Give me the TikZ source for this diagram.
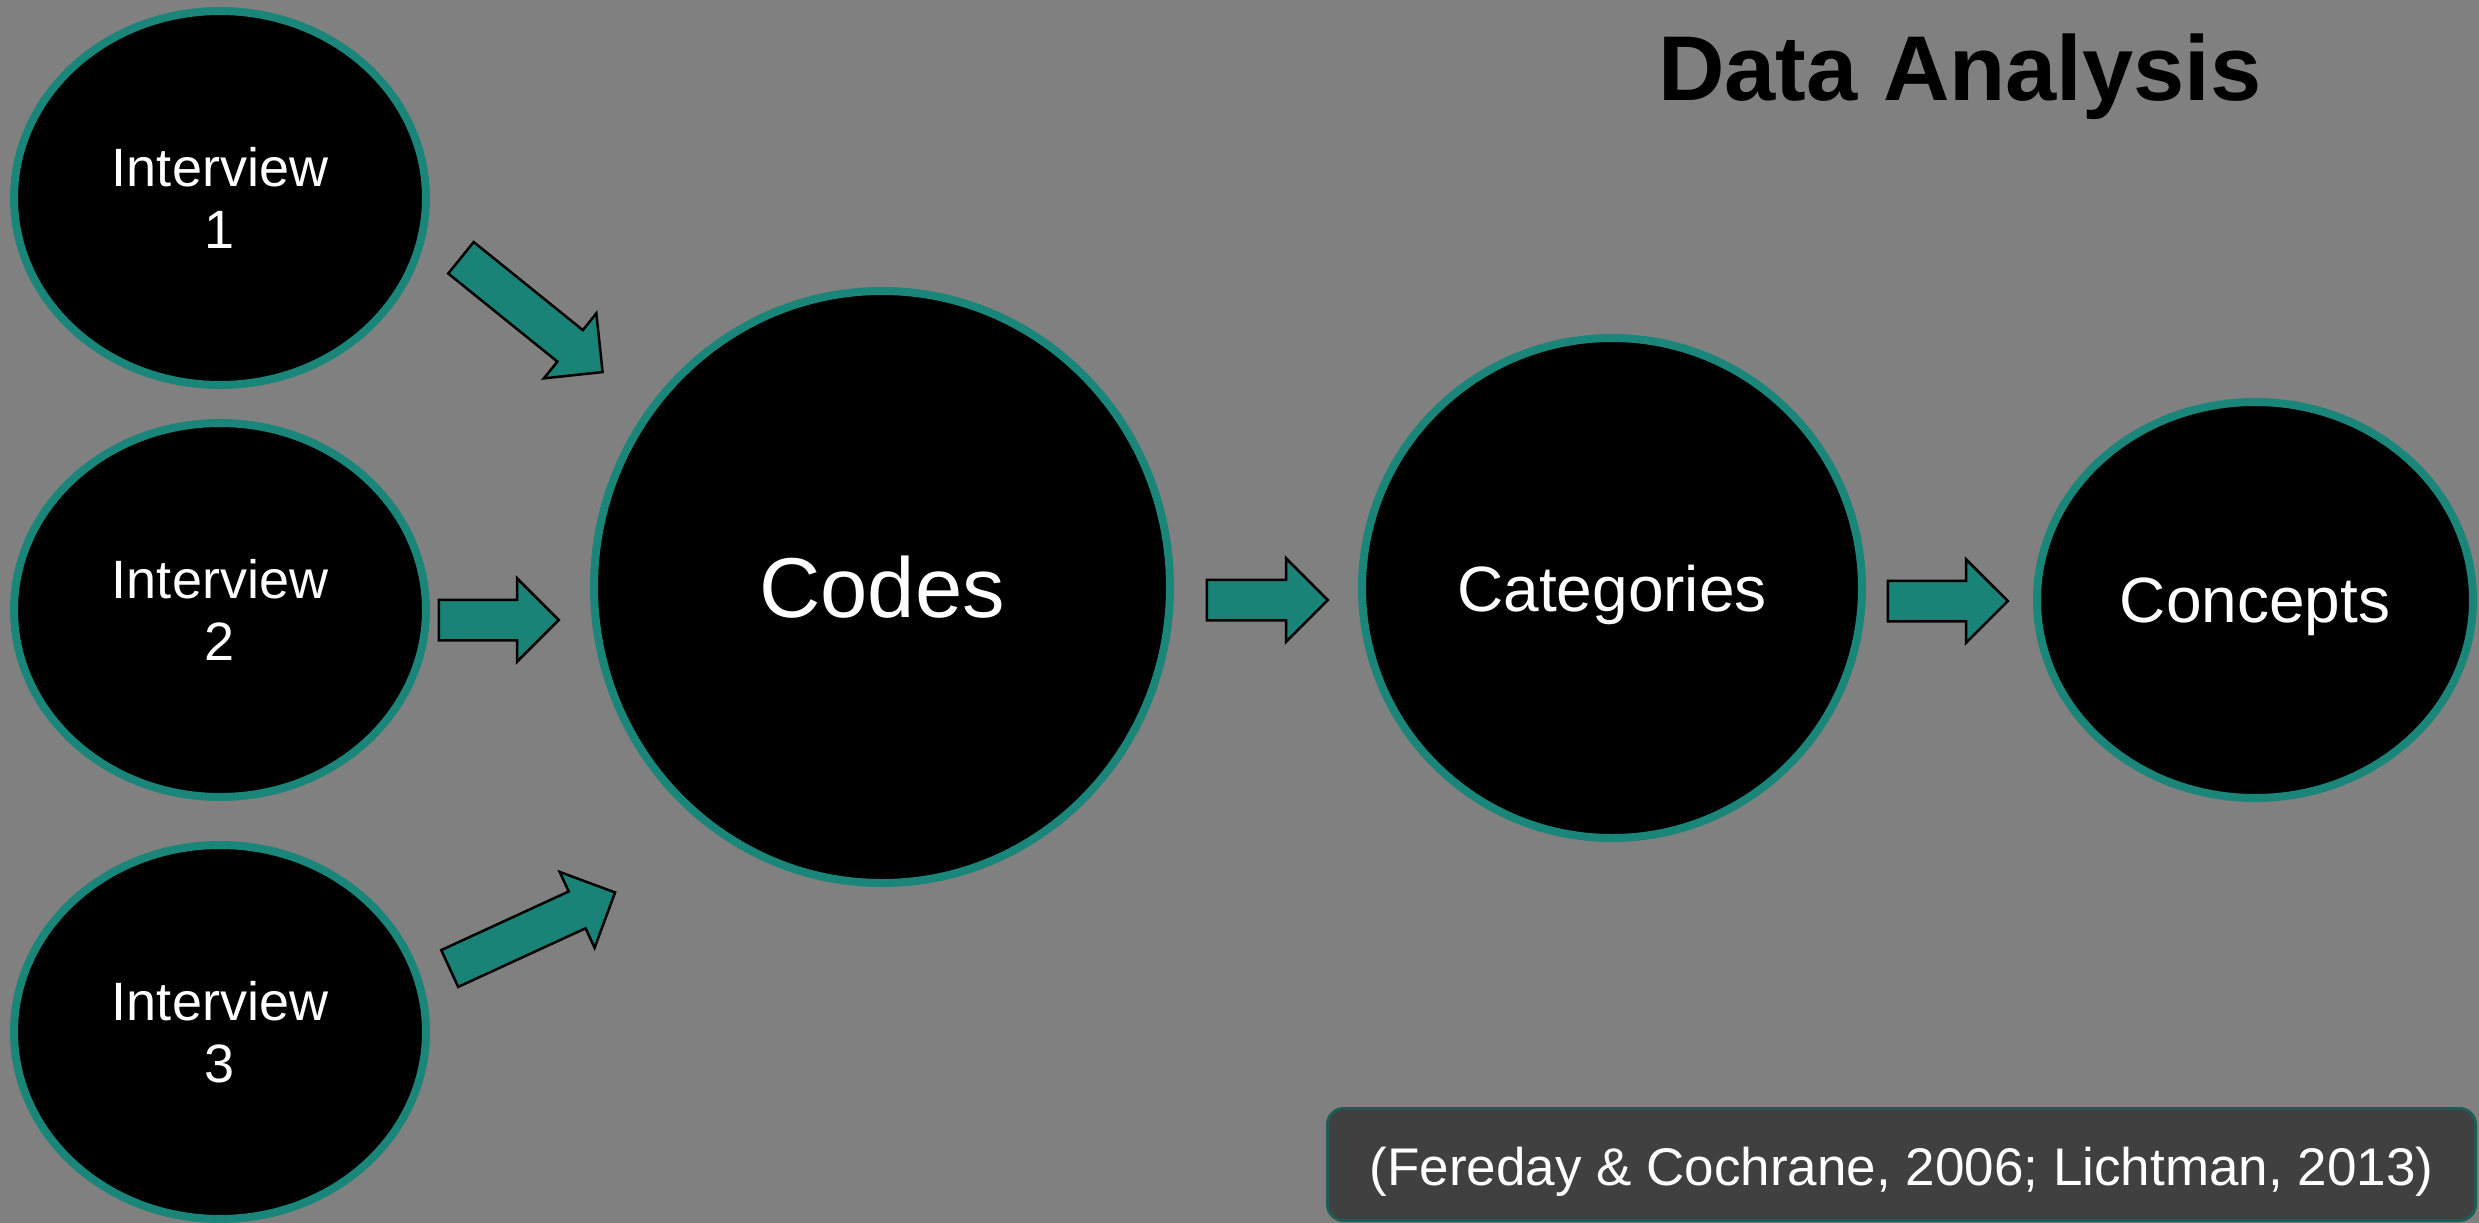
\documentclass[tikz,border=0pt]{standalone}
\usepackage{fontspec}
\setmainfont{Liberation Sans}
\usetikzlibrary{shapes.geometric,shapes.arrows}
\definecolor{slidebg}{RGB}{128,128,128}
\definecolor{tealring}{RGB}{26,134,122}
\definecolor{tealfill}{RGB}{26,131,119}
\definecolor{notebg}{RGB}{64,64,64}
\definecolor{noteedge}{RGB}{30,92,85}

\begin{document}
\begin{tikzpicture}[x=1pt,y=-1pt,
  stage/.style={ellipse, draw=tealring, line width=8pt, fill=black,
    text=white, inner sep=0pt, align=center},
  flow/.style={single arrow, draw=black, line width=2.5pt, fill=tealfill,
    inner sep=0pt, text height=38pt, text depth=0pt, anchor=tail,
    single arrow head extend=21.5pt, minimum width=81pt},
]
% slide background
\fill[slidebg] (0,0) rectangle (2479,1223);
\useasboundingbox (0,0) rectangle (2479,1223);

% title
\node[anchor=base, font=\fontsize{92}{100}\selectfont\bfseries] (title)
  at (1960,100) {Data Analysis};

% interviews
\node[stage, minimum width=412pt, minimum height=374pt,
  font=\fontsize{54}{62}\selectfont] (int1) at (220,198) {Interview\\1};
\node[stage, minimum width=412pt, minimum height=374pt,
  font=\fontsize{54}{62}\selectfont] (int2) at (220,610) {Interview\\2};
\node[stage, minimum width=412pt, minimum height=374pt,
  font=\fontsize{54}{62}\selectfont] (int3) at (220,1032) {Interview\\3};

% analysis stages
\node[stage, minimum width=576pt, minimum height=592pt, text depth=0pt,
  font=\fontsize{85}{95}\selectfont] (codes) at (882,587) {Codes};
\node[stage, minimum width=500pt, minimum height=500pt, text depth=0pt,
  font=\fontsize{64}{72}\selectfont] (cats) at (1612,588) {Categories};
\node[stage, minimum width=436pt, minimum height=396pt, text depth=0pt,
  font=\fontsize{64}{72}\selectfont] (concepts) at (2255,600) {Concepts};

% block arrows between the stages, placed by their tails
\node[flow, minimum height=182pt, rotate=-38.9] (a1) at (460,257) {};
\node[flow, minimum height=120pt] (a2) at (437.5,620) {};
\node[flow, minimum height=182pt, rotate=24.7] (a3) at (448.6,969) {};
\node[flow, minimum height=121pt] (a4) at (1205.5,600) {};
\node[flow, minimum height=120pt] (a5) at (1886.5,601) {};

% reference box
\node[draw=noteedge, line width=3pt, fill=notebg, rounded corners=16pt,
  minimum width=1148pt, minimum height=112pt, inner sep=0pt,
  text=white, font=\fontsize{53}{60}\selectfont,
  text height=41pt, text depth=0pt] (cite) at (1901.5,1164.5)
  {(Fereday \& Cochrane, 2006; Lichtman, 2013)};
\end{tikzpicture}
\end{document}
